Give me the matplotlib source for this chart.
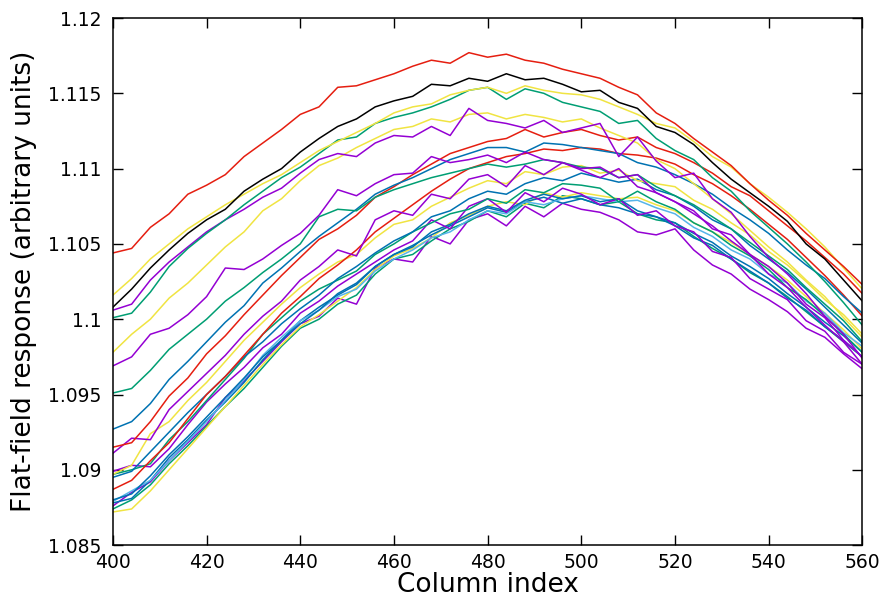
import matplotlib
matplotlib.use("Agg")
import matplotlib.pyplot as plt

# column index, sampled every 4 columns
cols = list(range(400, 561, 4))

# flat-field response curves (one list per curve)
red_top = [1.1044, 1.1047, 1.1061, 1.1070, 1.1083, 1.1089, 1.1096, 1.1108, 1.1117, 1.1126,
           1.1136, 1.1141, 1.1154, 1.1155, 1.1159, 1.1163, 1.1168, 1.1172, 1.1170, 1.1177,
           1.1174, 1.1176, 1.1172, 1.1170, 1.1166, 1.1163, 1.1160, 1.1154, 1.1149, 1.1137,
           1.1130, 1.1120, 1.1111, 1.1102, 1.1090, 1.1079, 1.1069, 1.1057, 1.1046, 1.1035, 1.1023]
black_top = [1.1008, 1.1020, 1.1034, 1.1046, 1.1057, 1.1066, 1.1073, 1.1085, 1.1093, 1.1100,
             1.1111, 1.1120, 1.1128, 1.1133, 1.1141, 1.1145, 1.1148, 1.1156, 1.1155, 1.1160,
             1.1158, 1.1163, 1.1159, 1.1160, 1.1156, 1.1151, 1.1152, 1.1144, 1.1140, 1.1128,
             1.1124, 1.1116, 1.1104, 1.1093, 1.1084, 1.1075, 1.1065, 1.1050, 1.1040, 1.1026, 1.1012]
yellow_top = [1.1016, 1.1027, 1.1040, 1.1050, 1.1060, 1.1068, 1.1076, 1.1083, 1.1090, 1.1096,
              1.1104, 1.1112, 1.1118, 1.1124, 1.1130, 1.1137, 1.1141, 1.1143, 1.1149, 1.1152,
              1.1154, 1.1150, 1.1155, 1.1152, 1.1150, 1.1149, 1.1146, 1.1141, 1.1136, 1.1130,
              1.1127, 1.1118, 1.1108, 1.1101, 1.1090, 1.1081, 1.1071, 1.1060, 1.1048, 1.1034, 1.1020]
green_top = [1.1001, 1.1004, 1.1018, 1.1035, 1.1047, 1.1057, 1.1066, 1.1076, 1.1085, 1.1094,
             1.1101, 1.1110, 1.1119, 1.1121, 1.1130, 1.1134, 1.1137, 1.1141, 1.1146, 1.1152,
             1.1154, 1.1146, 1.1153, 1.1150, 1.1144, 1.1141, 1.1138, 1.1130, 1.1132, 1.1120,
             1.1112, 1.1106, 1.1094, 1.1085, 1.1072, 1.1061, 1.1050, 1.1038, 1.1025, 1.1011, 1.0996]
purple_top = [1.1006, 1.1010, 1.1026, 1.1038, 1.1048, 1.1058, 1.1066, 1.1073, 1.1081, 1.1087,
              1.1097, 1.1106, 1.1110, 1.1108, 1.1117, 1.1122, 1.1121, 1.1128, 1.1122, 1.1140,
              1.1132, 1.1130, 1.1127, 1.1132, 1.1124, 1.1127, 1.1130, 1.1108, 1.1121, 1.1105,
              1.1094, 1.1097, 1.1080, 1.1071, 1.1055, 1.1041, 1.1030, 1.1017, 1.1002, 1.0990, 1.0974]
yellow_2 = [1.0978, 1.0990, 1.1000, 1.1014, 1.1024, 1.1036, 1.1048, 1.1058, 1.1072, 1.1080,
            1.1092, 1.1102, 1.1107, 1.1114, 1.1120, 1.1126, 1.1128, 1.1133, 1.1131, 1.1136,
            1.1137, 1.1133, 1.1136, 1.1134, 1.1131, 1.1133, 1.1127, 1.1122, 1.1117, 1.1106,
            1.1100, 1.1090, 1.1080, 1.1070, 1.1059, 1.1048, 1.1038, 1.1026, 1.1015, 1.1001, 1.0988]
purple_m1 = [1.0969, 1.0975, 1.0990, 1.0994, 1.1003, 1.1015, 1.1034, 1.1033, 1.1040, 1.1049,
             1.1057, 1.1069, 1.1086, 1.1082, 1.1090, 1.1096, 1.1097, 1.1108, 1.1104, 1.1106,
             1.1109, 1.1104, 1.1111, 1.1106, 1.1104, 1.1100, 1.1101, 1.1094, 1.1096, 1.1084,
             1.1078, 1.1070, 1.1062, 1.1052, 1.1043, 1.1030, 1.1021, 1.1008, 1.0996, 1.0985, 1.0970]
green_m1 = [1.0951, 1.0954, 1.0966, 1.0980, 1.0990, 1.1000, 1.1012, 1.1021, 1.1031, 1.1040,
            1.1050, 1.1068, 1.1073, 1.1072, 1.1081, 1.1086, 1.1090, 1.1094, 1.1097, 1.1100,
            1.1103, 1.1101, 1.1103, 1.1106, 1.1104, 1.1101, 1.1100, 1.1094, 1.1096, 1.1088,
            1.1082, 1.1076, 1.1068, 1.1060, 1.1051, 1.1042, 1.1033, 1.1021, 1.1010, 1.0999, 1.0985]
blue_m1 = [1.0927, 1.0932, 1.0944, 1.0960, 1.0972, 1.0985, 1.0998, 1.1009, 1.1024, 1.1034,
           1.1045, 1.1055, 1.1064, 1.1073, 1.1083, 1.1089, 1.1094, 1.1100, 1.1106, 1.1110,
           1.1114, 1.1114, 1.1111, 1.1117, 1.1116, 1.1114, 1.1112, 1.1110, 1.1104, 1.1101,
           1.1096, 1.1090, 1.1083, 1.1074, 1.1066, 1.1057, 1.1046, 1.1036, 1.1027, 1.1015, 1.1004]
red_m1 = [1.0915, 1.0918, 1.0932, 1.0949, 1.0961, 1.0977, 1.0989, 1.1003, 1.1016, 1.1029,
          1.1041, 1.1053, 1.1060, 1.1069, 1.1081, 1.1088, 1.1096, 1.1103, 1.1110, 1.1114,
          1.1118, 1.1120, 1.1126, 1.1121, 1.1124, 1.1126, 1.1122, 1.1119, 1.1121, 1.1114,
          1.1110, 1.1104, 1.1097, 1.1088, 1.1082, 1.1072, 1.1062, 1.1052, 1.1041, 1.1030, 1.1017]
purple_m2 = [1.0911, 1.0921, 1.0920, 1.0940, 1.0952, 1.0964, 1.0976, 1.0990, 1.1002, 1.1012,
             1.1026, 1.1035, 1.1046, 1.1042, 1.1066, 1.1072, 1.1069, 1.1083, 1.1080, 1.1093,
             1.1096, 1.1088, 1.1102, 1.1096, 1.1104, 1.1099, 1.1094, 1.1100, 1.1088, 1.1084,
             1.1078, 1.1072, 1.1060, 1.1056, 1.1043, 1.1035, 1.1024, 1.1010, 1.1001, 1.0986, 1.0975]
red_m2 = [1.0887, 1.0893, 1.0906, 1.0918, 1.0934, 1.0950, 1.0962, 1.0976, 1.0990, 1.1004,
          1.1015, 1.1027, 1.1036, 1.1046, 1.1058, 1.1067, 1.1076, 1.1085, 1.1093, 1.1100,
          1.1104, 1.1108, 1.1110, 1.1113, 1.1112, 1.1114, 1.1113, 1.1110, 1.1109, 1.1107,
          1.1103, 1.1096, 1.1090, 1.1082, 1.1073, 1.1063, 1.1053, 1.1041, 1.1029, 1.1016, 1.1002]
yellow_m = [1.0897, 1.0903, 1.0924, 1.0932, 1.0946, 1.0958, 1.0972, 1.0986, 1.0998, 1.1010,
            1.1021, 1.1030, 1.1038, 1.1043, 1.1054, 1.1063, 1.1066, 1.1075, 1.1081, 1.1087,
            1.1092, 1.1090, 1.1098, 1.1096, 1.1101, 1.1102, 1.1097, 1.1099, 1.1092, 1.1090,
            1.1088, 1.1079, 1.1073, 1.1064, 1.1056, 1.1045, 1.1036, 1.1025, 1.1013, 1.1003, 1.0990]
blue_m2 = [1.0895, 1.0899, 1.0912, 1.0925, 1.0938, 1.0950, 1.0962, 1.0975, 1.0985, 1.0997,
           1.1007, 1.1016, 1.1027, 1.1035, 1.1044, 1.1052, 1.1058, 1.1068, 1.1072, 1.1080,
           1.1085, 1.1083, 1.1090, 1.1094, 1.1092, 1.1097, 1.1094, 1.1091, 1.1093, 1.1086,
           1.1082, 1.1075, 1.1066, 1.1060, 1.1049, 1.1040, 1.1031, 1.1020, 1.1008, 1.0996, 1.0984]
green_m2 = [1.0897, 1.0900, 1.0904, 1.0920, 1.0932, 1.0946, 1.0960, 1.0974, 1.0990, 1.1001,
            1.1012, 1.1020, 1.1026, 1.1032, 1.1043, 1.1050, 1.1058, 1.1064, 1.1070, 1.1073,
            1.1080, 1.1077, 1.1086, 1.1084, 1.1090, 1.1089, 1.1087, 1.1078, 1.1085, 1.1078,
            1.1073, 1.1064, 1.1058, 1.1049, 1.1042, 1.1033, 1.1021, 1.1013, 1.1002, 1.0990, 1.0978]
purple_b1 = [1.0899, 1.0903, 1.0902, 1.0914, 1.0930, 1.0945, 1.0957, 1.0968, 1.0981, 1.0990,
             1.1004, 1.1012, 1.1022, 1.1030, 1.1038, 1.1046, 1.1052, 1.1066, 1.1060, 1.1075,
             1.1080, 1.1071, 1.1084, 1.1078, 1.1087, 1.1083, 1.1076, 1.1080, 1.1069, 1.1072,
             1.1062, 1.1058, 1.1045, 1.1041, 1.1027, 1.1020, 1.1013, 1.0999, 1.0992, 1.0978, 1.0970]
blue_b1 = [1.0880, 1.0884, 1.0896, 1.0910, 1.0922, 1.0935, 1.0948, 1.0961, 1.0975, 1.0986,
           1.0997, 1.1006, 1.1017, 1.1024, 1.1035, 1.1043, 1.1048, 1.1058, 1.1063, 1.1070,
           1.1075, 1.1072, 1.1079, 1.1083, 1.1080, 1.1082, 1.1078, 1.1080, 1.1072, 1.1068,
           1.1064, 1.1057, 1.1051, 1.1042, 1.1035, 1.1027, 1.1017, 1.1008, 1.0998, 1.0989, 1.0978]
lightblue_b = [1.0879, 1.0886, 1.0893, 1.0906, 1.0919, 1.0932, 1.0946, 1.0960, 1.0976, 1.0988,
               1.0999, 1.1006, 1.1015, 1.1020, 1.1032, 1.1040, 1.1046, 1.1054, 1.1058, 1.1066,
               1.1072, 1.1070, 1.1078, 1.1076, 1.1080, 1.1082, 1.1080, 1.1078, 1.1079, 1.1074,
               1.1070, 1.1061, 1.1055, 1.1046, 1.1040, 1.1030, 1.1024, 1.1012, 1.1004, 1.0991, 1.0982]
yellow_b = [1.0872, 1.0874, 1.0886, 1.0900, 1.0914, 1.0928, 1.0942, 1.0956, 1.0970, 1.0983,
            1.0995, 1.1003, 1.1012, 1.1021, 1.1033, 1.1042, 1.1047, 1.1054, 1.1064, 1.1069,
            1.1075, 1.1078, 1.1076, 1.1084, 1.1081, 1.1084, 1.1082, 1.1080, 1.1081, 1.1076,
            1.1072, 1.1064, 1.1058, 1.1051, 1.1043, 1.1035, 1.1026, 1.1015, 1.1004, 1.0993, 1.0980]
green_b = [1.0874, 1.0880, 1.0890, 1.0904, 1.0916, 1.0929, 1.0942, 1.0954, 1.0968, 1.0982,
           1.0994, 1.1000, 1.1010, 1.1016, 1.1030, 1.1040, 1.1043, 1.1052, 1.1060, 1.1065,
           1.1072, 1.1068, 1.1077, 1.1074, 1.1082, 1.1080, 1.1076, 1.1078, 1.1070, 1.1066,
           1.1064, 1.1055, 1.1047, 1.1040, 1.1031, 1.1024, 1.1015, 1.1005, 1.0995, 1.0985, 1.0975]
purple_b2 = [1.0876, 1.0885, 1.0892, 1.0906, 1.0918, 1.0930, 1.0948, 1.0959, 1.0972, 1.0985,
             1.0997, 1.1002, 1.1014, 1.1010, 1.1034, 1.1040, 1.1038, 1.1055, 1.1050, 1.1066,
             1.1070, 1.1062, 1.1075, 1.1068, 1.1077, 1.1073, 1.1071, 1.1066, 1.1058, 1.1056,
             1.1060, 1.1046, 1.1036, 1.1030, 1.1020, 1.1013, 1.1005, 1.0994, 1.0988, 1.0977, 1.0967]
blue_b2 = [1.0878, 1.0881, 1.0893, 1.0908, 1.0920, 1.0933, 1.0945, 1.0958, 1.0973, 1.0986,
           1.0999, 1.1008, 1.1016, 1.1023, 1.1035, 1.1043, 1.1049, 1.1056, 1.1062, 1.1068,
           1.1074, 1.1071, 1.1078, 1.1081, 1.1077, 1.1080, 1.1076, 1.1074, 1.1070, 1.1068,
           1.1062, 1.1054, 1.1049, 1.1040, 1.1032, 1.1024, 1.1014, 1.1006, 1.0995, 1.0986, 1.0975]

# gnuplot-like palette
PURPLE, GREEN, LBLUE, YELLOW = "#9400d3", "#009e73", "#56b4e9", "#f0e442"
BLUE, RED, BLACK = "#0072b2", "#e51e10", "#000000"

curves = [
    (purple_b2, PURPLE), (green_b, GREEN), (yellow_b, YELLOW), (blue_b2, BLUE),
    (lightblue_b, LBLUE), (blue_b1, BLUE), (purple_b1, PURPLE), (green_m2, GREEN),
    (blue_m2, BLUE), (yellow_m, YELLOW), (red_m2, RED), (purple_m2, PURPLE),
    (red_m1, RED), (blue_m1, BLUE), (green_m1, GREEN), (purple_m1, PURPLE),
    (yellow_2, YELLOW), (purple_top, PURPLE), (green_top, GREEN),
    (yellow_top, YELLOW), (black_top, BLACK), (red_top, RED),
]

xticks = [400, 420, 440, 460, 480, 500, 520, 540, 560]
yticks = [1.085, 1.09, 1.095, 1.1, 1.105, 1.11, 1.115, 1.12]
ytick_labels = ["1.085", "1.09", "1.095", "1.1", "1.105", "1.11", "1.115", "1.12"]

fig = plt.figure(figsize=(8.89, 6.01), dpi=100)
ax = fig.add_axes([0.127, 0.093, 0.843, 0.877])

for vals, col in curves:
    ax.plot(cols, vals, color=col, lw=1.1)

ax.set_xlim(400, 560)
ax.set_ylim(1.085, 1.12)
ax.set_xticks(xticks)
ax.set_xticklabels([str(t) for t in xticks])
ax.set_yticks(yticks)
ax.set_yticklabels(ytick_labels)

ax.tick_params(direction="in", length=7, width=1.0, top=True, right=True,
               labelsize=13.5)
ax.tick_params(axis="y", pad=8)
ax.tick_params(axis="x", pad=6)
for sp in ax.spines.values():
    sp.set_linewidth(1.1)

ax.set_xlabel("Column index", fontsize=19, labelpad=0)
ax.set_ylabel("Flat-field response (arbitrary units)", fontsize=19, labelpad=8)

fig.savefig("out.png", dpi=100)
